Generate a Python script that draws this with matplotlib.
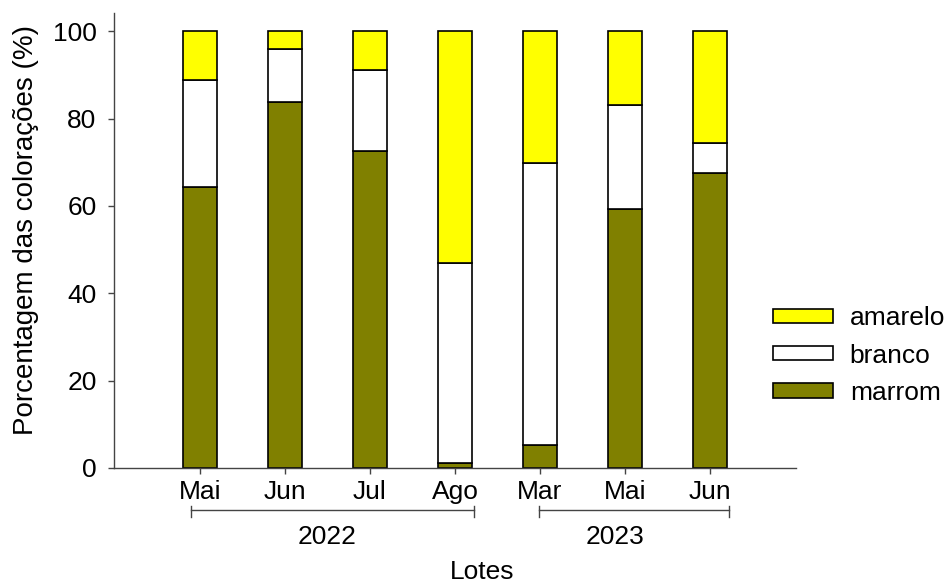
import matplotlib.pyplot as plt
import matplotlib.transforms as mtransforms

plt.rcParams['font.family'] = ['Liberation Sans', 'DejaVu Sans']

lotes = ["Mai", "Jun", "Jul", "Ago", "Mar", "Mai", "Jun"]
marrom = [64.4, 83.8, 72.5, 1.2, 5.2, 59.2, 67.5]
branco = [24.4, 12.1, 18.6, 45.8, 64.7, 23.9, 7.0]
amarelo = [11.2, 4.1, 8.9, 53.0, 30.1, 16.9, 25.5]
anos = ["2022", "2023"]
meses_por_ano = [4, 3]

fig = plt.figure(figsize=(9.49, 5.83), dpi=100)
ax = fig.add_axes([0.1201, 0.1973, 0.7187, 0.7804])

x = list(range(len(lotes)))
w = 0.4
base2 = [m + b for m, b in zip(marrom, branco)]
ax.bar(x, marrom, w, color="#808000", edgecolor="black", linewidth=1.2, label="marrom")
ax.bar(x, branco, w, bottom=marrom, color="white", edgecolor="black", linewidth=1.2, label="branco")
ax.bar(x, amarelo, w, bottom=base2, color="#FFFF00", edgecolor="black", linewidth=1.2, label="amarelo")

ax.set_xlim(-1.01, 7.01)
ax.set_ylim(0, 104.2)
ax.set_yticks([0, 20, 40, 60, 80, 100])
ax.set_xticks(x)
ax.set_xticklabels(lotes)
for s in ["top", "right"]:
    ax.spines[s].set_visible(False)
for s in ["left", "bottom"]:
    ax.spines[s].set_color("#444444")
    ax.spines[s].set_linewidth(1.0)
ax.tick_params(direction="out", length=4.5, width=1.0, color="#444444",
               labelsize=19, pad=4)
ax.tick_params(axis="y", pad=8)

# year brackets under the month labels
trans = mtransforms.blended_transform_factory(ax.transData, ax.transAxes)
start = 0
text_x = [1.49, 4.88]
left_off = [-0.11, -0.01]
for ano, n, tx, lo in zip(anos, meses_por_ano, text_x, left_off):
    x0 = start + lo
    x1 = start + n - 1 + 0.22
    ax.plot([x0, x1], [-0.0923, -0.0923], color="#444444", lw=1.0,
            transform=trans, clip_on=False)
    for xe in (x0, x1):
        ax.plot([xe, xe], [-0.0835, -0.1077], color="#444444", lw=1.0,
                transform=trans, clip_on=False)
    ax.text(tx, -0.152, ano, transform=trans, ha="center", va="center", fontsize=19)
    start += n

fig.text(0.5076, 0.019, "Lotes", ha="center", va="center", fontsize=19)
fig.text(0.027, 0.605, "Porcentagem das colorações (%)", rotation=90,
         ha="center", va="center", fontsize=20)

handles, labels = ax.get_legend_handles_labels()
fig.legend(handles[::-1], labels[::-1], loc="center left",
           bbox_to_anchor=(0.7895, 0.39), frameon=False, fontsize=19,
           handlelength=2.27, handleheight=0.45, labelspacing=0.5,
           handletextpad=0.64)

fig.savefig("out.png", dpi=100)
